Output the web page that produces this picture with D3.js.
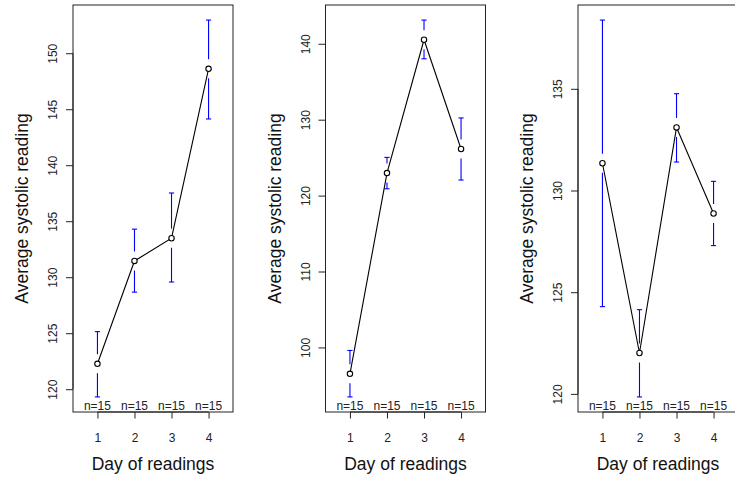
<!DOCTYPE html>
<html>
<head>
<meta charset="utf-8">
<script src="https://cdn.jsdelivr.net/npm/d3@7"></script>
<style>
  body { margin: 0; background: #fff; }
  svg { display: block; font-family: "Liberation Sans", Arial, sans-serif; }
</style>
</head>
<body>
<div id="chart"></div>
<script>
"use strict";
/*data*/
var days = [1, 2, 3, 4];
var dayLabels = ["1", "2", "3", "4"];
var nLabels = ["n=15", "n=15", "n=15", "n=15"];

var means1 = [122.27, 131.45, 133.48, 148.61];
var lower1 = [119.31, 128.67, 129.57, 144.13];
var upper1 = [125.14, 134.29, 137.52, 152.96];
var ticks1 = [120, 125, 130, 135, 140, 145, 150];

var means2 = [96.52, 122.97, 140.53, 126.14];
var lower2 = [93.48, 120.90, 138.02, 122.05];
var upper2 = [99.60, 125.03, 143.12, 130.23];
var ticks2 = [100, 110, 120, 130, 140];

var means3 = [131.34, 122.01, 133.10, 128.87];
var lower3 = [124.29, 119.85, 131.40, 127.29];
var upper3 = [138.38, 124.14, 134.76, 130.45];
var ticks3 = [120, 125, 130, 135];

var xTitle = "Day of readings";
var yTitle = "Average systolic reading";

var g = {};
g.width = 735;
g.height = 482;
g.panelWidth = 252.5;
g.box = {left: 73, right: 233, top: 5, bottom: 412};
g.gap = 9.5;
g.capHalf = 2.6;

g.svg = d3.select("#chart").append("svg")
  .attr("width", g.width)
  .attr("height", g.height)
  .attr("viewBox", "0 0 " + g.width + " " + g.height);

g.svg.append("rect")
  .attr("width", g.width)
  .attr("height", g.height)
  .attr("fill", "#fff");

// R style range: data range padded by 4% on each side
var padRange = function(lo, hi) {
  var ext = (hi - lo) * 0.04;
  return [lo - ext, hi + ext];
};

var drawPanel = function(i, means, lower, upper, ticks) {
  var b = g.box;
  var panel = g.svg.append("g")
    .attr("transform", "translate(" + (i * g.panelWidth) + ",0)");

  var x = d3.scaleLinear()
    .domain(padRange(0.5, 4.5))
    .range([b.left, b.right]);
  var y = d3.scaleLinear()
    .domain(padRange(d3.min(lower), d3.max(upper)))
    .range([b.bottom, b.top]);

  // y axis, labels turned parallel to the axis
  var yAxis = panel.append("g")
    .attr("transform", "translate(" + b.left + ",0)")
    .call(d3.axisLeft(y).tickValues(ticks).tickSize(7).tickPadding(0).tickFormat(d3.format("d")));
  yAxis.select(".domain").attr("d", "M0," + y(ticks[0]) + "V" + y(ticks[ticks.length - 1]));
  yAxis.selectAll(".tick line").attr("stroke", "#222");
  yAxis.selectAll(".tick text")
    .attr("x", 0)
    .attr("y", 0)
    .attr("dy", 0)
    .attr("transform", "translate(-16,0) rotate(-90)")
    .attr("text-anchor", "middle")
    .attr("font-size", 12)
    .attr("fill", "#222");

  // x axis
  var xAxis = panel.append("g")
    .attr("transform", "translate(0," + b.bottom + ")")
    .call(d3.axisBottom(x).tickValues(days).tickSize(6.5).tickPadding(15)
      .tickFormat(function(d, k) { return dayLabels[k]; }));
  xAxis.select(".domain").attr("d", "M" + x(days[0]) + ",0H" + x(days[days.length - 1]));
  xAxis.selectAll(".tick line").attr("stroke", "#222");
  xAxis.selectAll(".tick text")
    .attr("font-size", 12)
    .attr("fill", "#222");
  panel.selectAll(".domain").attr("stroke", "#222");

  // box
  panel.append("rect")
    .attr("x", b.left)
    .attr("y", b.top)
    .attr("width", b.right - b.left)
    .attr("height", b.bottom - b.top)
    .attr("fill", "none")
    .attr("stroke", "#222")
    .attr("stroke-width", 1);

  // error bars with a gap round the mean
  var bars = panel.append("g").attr("class", "bars");
  days.forEach(function(d, k) {
    var cx = x(d);
    var cy = y(means[k]);
    var ends = [y(upper[k]), y(lower[k])];
    ends.forEach(function(ey) {
      var dir = ey < cy ? -1 : 1;
      if (Math.abs(ey - cy) > g.gap) {
        bars.append("line")
          .attr("x1", cx).attr("x2", cx)
          .attr("y1", cy + dir * g.gap).attr("y2", ey)
          .attr("stroke", "#0000ff")
          .attr("stroke-width", 1.1);
      }
      bars.append("line")
        .attr("x1", cx - g.capHalf).attr("x2", cx + g.capHalf)
        .attr("y1", ey).attr("y2", ey)
        .attr("stroke", "#0000ff")
        .attr("stroke-width", 1.1);
    });
  });

  // connecting line and points
  var line = d3.line()
    .x(function(d, k) { return x(days[k]); })
    .y(function(d) { return y(d); });
  panel.append("path")
    .datum(means)
    .attr("d", line)
    .attr("fill", "none")
    .attr("stroke", "#000")
    .attr("stroke-width", 1.1);
  panel.selectAll("circle.mean")
    .data(means)
    .enter()
    .append("circle")
      .attr("class", "mean")
      .attr("cx", function(d, k) { return x(days[k]); })
      .attr("cy", function(d) { return y(d); })
      .attr("r", 2.7)
      .attr("fill", "#fff")
      .attr("stroke", "#000")
      .attr("stroke-width", 1.1);

  // n= labels along the bottom of the box
  panel.selectAll("text.nlab")
    .data(nLabels)
    .enter()
    .append("text")
      .attr("class", "nlab")
      .attr("x", function(d, k) { return x(days[k]); })
      .attr("y", b.bottom - 2.3)
      .attr("text-anchor", "middle")
      .attr("font-size", 12)
      .attr("fill", "#222")
      .text(function(d) { return d; });

  // titles
  panel.append("text")
    .attr("x", (b.left + b.right) / 2)
    .attr("y", 470)
    .attr("text-anchor", "middle")
    .attr("font-size", 17.5)
    .attr("fill", "#111")
    .text(xTitle);
  panel.append("text")
    .attr("transform", "translate(28," + ((b.top + b.bottom) / 2) + ") rotate(-90)")
    .attr("text-anchor", "middle")
    .attr("font-size", 17.5)
    .attr("fill", "#111")
    .text(yTitle);
};

drawPanel(0, means1, lower1, upper1, ticks1);
drawPanel(1, means2, lower2, upper2, ticks2);
drawPanel(2, means3, lower3, upper3, ticks3);
</script>
</body>
</html>
